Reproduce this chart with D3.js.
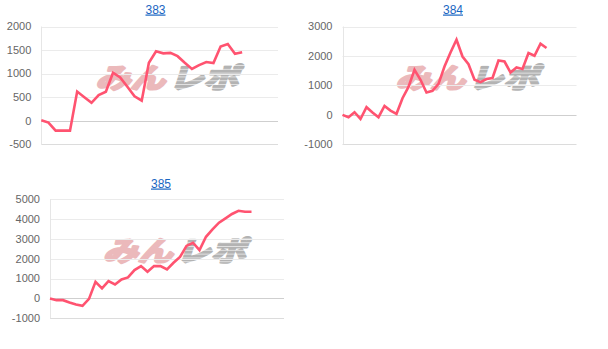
<!DOCTYPE html>
<html>
<head>
<meta charset="utf-8">
<script src="https://cdn.jsdelivr.net/npm/d3@7"></script>
<style>
  html, body { margin: 0; padding: 0; background: #fff; }
  svg { display: block; }
</style>
</head>
<body>
<svg id="chart" width="608" height="349"></svg>
<script>
// chart titles (machine numbers)
const titles = ['383', '384', '385'];

// cumulative difference per game block
const values383 = [10, -40, -210, -210, -210, 620, 500, 380, 545, 615, 1020, 920, 720, 520, 425,
  1230, 1475, 1430, 1440, 1370, 1230, 1100, 1180, 1245, 1225, 1575, 1630, 1420, 1455];
const values384 = [0, -80, 90, -140, 260, 80, -80, 305, 145, 35, 565, 950, 1530, 1190, 760, 815,
  1050, 1640, 2120, 2550, 1980, 1720, 1190, 1110, 1215, 1250, 1845, 1810, 1440, 1610, 1555,
  2100, 2005, 2415, 2270];
const values385 = [0, -85, -85, -200, -300, -370, -20, 840, 505, 870, 705, 960, 1060, 1430, 1630,
  1345, 1630, 1630, 1460, 1800, 2090, 2650, 2810, 2440, 3110, 3480, 3820, 4040, 4260, 4420,
  4370, 4370];

// y axis ticks
const ticks383 = [-500, 0, 500, 1000, 1500, 2000];
const ticks384 = [-1000, 0, 1000, 2000, 3000];
const ticks385 = [-1000, 0, 1000, 2000, 3000, 4000, 5000];

// empty label slots after the last point
const emptySlots = 5;

const svg = d3.select('#chart');

const defs = svg.append('defs');
const stripe = defs.append('pattern')
  .attr('id', 'stripe')
  .attr('patternUnits', 'userSpaceOnUse')
  .attr('width', 10)
  .attr('height', 4);
stripe.append('rect').attr('width', 10).attr('height', 4).attr('fill', '#b3b3b3');
stripe.append('rect').attr('y', 3).attr('width', 10).attr('height', 1).attr('fill', '#e2e2e2');

function drawChart(title, values, ticks, box) {
  const g = svg.append('g');
  const slots = values.length + emptySlots;

  const x = d3.scaleLinear().domain([0, slots - 1]).range([box.left, box.right]);
  const y = d3.scaleLinear().domain([ticks[0], ticks[ticks.length - 1]]).range([box.bottom, box.top]);

  // title link
  g.append('text')
    .attr('x', box.titleX)
    .attr('y', box.titleY)
    .attr('text-anchor', 'middle')
    .attr('font-family', 'Liberation Sans, Arial, sans-serif')
    .attr('font-size', '12px')
    .attr('fill', '#1a66c2')
    .style('text-decoration', 'underline')
    .text(title);

  // watermark
  const cx = (box.left + box.right) / 2 + 10;
  const cy = (box.top + box.bottom) / 2 - 8;
  const wm = g.append('g')
    .attr('transform', `translate(${cx},${cy}) scale(1.2,0.95) skewX(-14)`)
    .attr('font-family', 'Noto Sans CJK JP, sans-serif')
    .attr('font-weight', 700)
    .attr('font-size', '29px')
    .attr('stroke-width', 2.6)
    .attr('stroke-linejoin', 'round');
  wm.append('text')
    .attr('x', -1)
    .attr('y', 11)
    .attr('text-anchor', 'end')
    .attr('fill', '#ebb9bb')
    .attr('stroke', '#ebb9bb')
    .text('みん');
  wm.append('text')
    .attr('x', 2)
    .attr('y', 11)
    .attr('text-anchor', 'start')
    .attr('fill', 'url(#stripe)')
    .attr('stroke', 'url(#stripe)')
    .text('レポ');

  // grid
  g.selectAll('line.grid')
    .data(ticks)
    .enter()
    .append('line')
    .attr('class', 'grid')
    .attr('x1', box.left)
    .attr('x2', box.right)
    .attr('y1', d => Math.round(y(d)) + 0.5)
    .attr('y2', d => Math.round(y(d)) + 0.5)
    .attr('stroke', (d, i) => (d === 0 ? '#cfcfcf' : i === 0 ? '#dcdcdc' : '#ebebeb'))
    .attr('stroke-width', 1);

  g.append('line')
    .attr('x1', Math.round(box.left) + 0.5)
    .attr('x2', Math.round(box.left) + 0.5)
    .attr('y1', box.top)
    .attr('y2', box.bottom)
    .attr('stroke', '#e6e6e6');

  // tick labels
  g.selectAll('text.tick')
    .data(ticks)
    .enter()
    .append('text')
    .attr('class', 'tick')
    .attr('x', box.left - 10)
    .attr('y', d => y(d))
    .attr('dy', '0.35em')
    .attr('text-anchor', 'end')
    .attr('font-family', 'Liberation Sans, Arial, sans-serif')
    .attr('font-size', '11px')
    .attr('fill', '#666')
    .text(d => d);

  // line
  const line = d3.line()
    .x((d, i) => x(i))
    .y(d => y(d));

  g.append('path')
    .datum(values)
    .attr('fill', 'none')
    .attr('stroke', '#ff5370')
    .attr('stroke-width', 2.6)
    .attr('stroke-linejoin', 'miter')
    .attr('d', line);
}

drawChart(titles[0], values383, ticks383,
  { left: 41.3, right: 278, top: 26.5, bottom: 144.3, titleX: 155.5, titleY: 13.5 });
drawChart(titles[1], values384, ticks384,
  { left: 342.5, right: 576.5, top: 26.5, bottom: 144.3, titleX: 453, titleY: 13.5 });
drawChart(titles[2], values385, ticks385,
  { left: 50, right: 284, top: 199.3, bottom: 318.3, titleX: 161, titleY: 187.5 });
</script>
</body>
</html>
